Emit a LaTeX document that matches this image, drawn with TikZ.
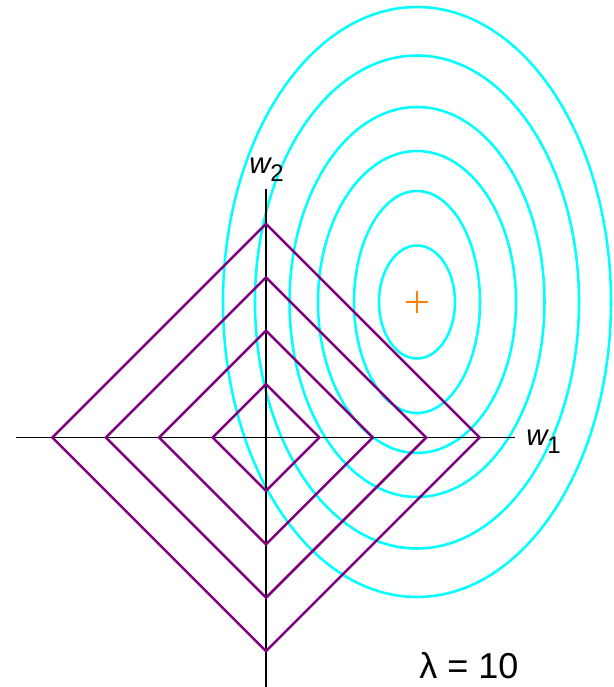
\documentclass[tikz,border=0pt]{standalone}
\usepackage{fontspec}
\setmainfont{Liberation Sans}
\usepackage{xcolor}
\definecolor{Cyan}{HTML}{00FFFF}
\definecolor{Purple}{HTML}{800080}
\definecolor{Orange}{HTML}{FF8000}

\begin{document}
\begin{tikzpicture}[x=0.75pt,y=-0.75pt,
  axisline/.style={black,line width=0.9pt},
  normball/.style={Purple,line width=1.9pt,line join=miter},
  lossline/.style={Cyan,line width=1.9pt}]
  \useasboundingbox (0,0) rectangle (614,687);
  \coordinate (o) at (266,437.5);
  \coordinate (opt) at (417,302);
  % loss contours
  \foreach \rx/\ry in {38/56.5,63/111,99/151,127.5/195,162/246.5,194/295}
    \draw[lossline] (opt) ellipse [x radius=\rx,y radius=\ry];
  % axes
  \coordinate (xl) at (16,437.5);
  \coordinate (xr) at (515,437.5);
  \coordinate (yt) at (266,189);
  \coordinate (yb) at (266,687);
  \draw[axisline] (xl) -- (xr);
  \draw[axisline] (yt) -- (yb);
  % l1 balls
  \foreach \r in {53.4,106.8,160.2,213.6}
    \draw[normball,shift={(o)}] (-\r,0) -- (0,-\r) -- (\r,0) -- (0,\r) -- cycle;
  \draw[Orange,line width=1.8pt] ([xshift=-8.5pt]opt) -- ([xshift=8.5pt]opt)
    ([yshift=-8.5pt]opt) -- ([yshift=8.5pt]opt);
  \node[anchor=base west,inner sep=0pt] (w1) at (526,445)
    {\fontsize{22}{22}\selectfont\itshape w\raisebox{-0.3em}{\fontsize{18}{18}\selectfont\upshape 1}};
  \node[anchor=base west,inner sep=0pt] (w2) at (249,173)
    {\fontsize{22}{22}\selectfont\itshape w\raisebox{-0.3em}{\fontsize{18}{18}\selectfont\upshape 2}};
  \node[inner sep=0pt] (lam) at (469,666) {\fontsize{27}{27}\selectfont λ = 10};
\end{tikzpicture}
\end{document}
